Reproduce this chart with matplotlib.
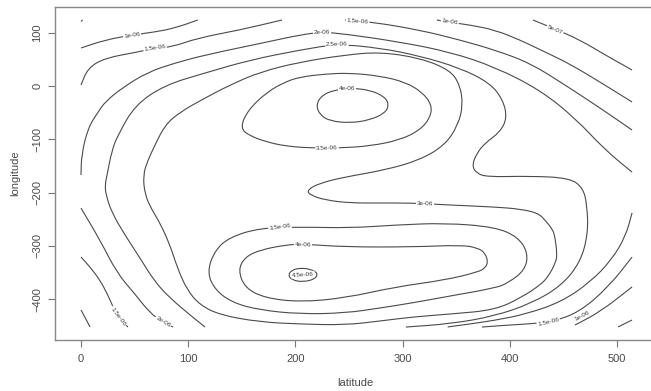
import numpy as np
import matplotlib.pyplot as plt
from matplotlib.path import Path
from matplotlib.patches import PathPatch

# contour paths, (latitude, longitude) pairs
c05_a = [(0, 121), (1.5, 124)]
c05_b = [(421.6, 123.8), (442, 107), (465.5, 86.3), (489, 58.2), (514, 30)]
c05_c = [(501, -452), (514, -439)]

c10_a = [(0, 71.3), (22.4, 86.3), (47.6, 95.7), (69, 101.3), (87.7, 108.8), (109, 123.8)]
c10_b = [(332, 123.8), (342.4, 120), (363, 114.4), (386.2, 105), (409.5, 86.3), (432.8, 63.8),
         (456, 41.3), (484, 7.5), (514, -30)]
c10_c = [(0, -420), (8.4, -452)]
c10_d = [(460.8, -448.4), (484, -424), (514, -377)]

c15_a = [(0, 1.9), (6.5, 33.8), (22.4, 52.5), (53.2, 63.8), (69, 71.3), (84.9, 73.2),
         (109, 90), (148, 105), (187.5, 123.8)]
c15_b = [(246.3, 123.8), (271.5, 120), (316, 105), (353.5, 86.3), (386, 67.5), (419, 43),
         (451.5, 1.9), (484, -41), (514, -82.6)]
c15_c = [(0, -320.8), (8.4, -339.6), (17.7, -364), (25, -392), (29.9, -414.6),
         (34.5, -433.4), (43.8, -452.2)]
c15_d = [(374, -452.2), (395, -449), (420, -446), (440, -442), (465, -424), (492, -377),
         (514, -321)]

c20_a = [(0, -167), (0.5, -129), (6.5, -78.8), (15.9, -48.8), (22.4, -30), (38.2, -3.8),
         (62.5, 26.3), (87.7, 43.1), (115.7, 58.2), (173.5, 82.5), (204, 95.7), (224.8, 101.3),
         (246.3, 97.6), (297.6, 82.5), (344.2, 63.8), (386.2, 35.6), (428.2, -7.5),
         (460.8, -60), (488.8, -120), (514, -161.4)]
c20_b = [(514, -238), (508, -282), (495, -326), (475, -368), (448, -405), (415, -428),
         (385, -440), (357, -448), (342, -452)]
c20_c = [(0, -229), (17.7, -289), (33.6, -351), (49.4, -388), (64.4, -426), (76.5, -443),
         (85.8, -452)]

c25 = [(115.7, -452.2), (101.7, -429.6), (83, -397.7), (69, -367.7), (55, -322.7),
       (41, -279.5), (28.9, -238.3), (23.3, -204.5), (22.4, -185.7), (24.3, -167),
       (28.9, -120), (34.5, -92), (50.4, -35.6), (78.4, 1.9), (115.7, 24.4), (157.6, 48.8),
       (204.3, 67.5), (238.8, 78.8), (278.9, 71.3), (316.2, 56.3), (353.5, 33.8),
       (381.5, 5.6), (393.7, -26.3), (397.4, -60), (390.9, -86.3), (376.9, -107),
       (369.4, -125.7), (364.7, -148.2), (368.5, -163.2), (378.7, -170.7), (418.8, -168.9),
       (456, -172.6), (468.3, -191.4), (472, -223.3), (473, -275.8), (466, -330),
       (448, -375), (420, -408), (385, -432), (345, -446), (303, -452.2)]

c30 = [(210.8, -195), (223, -182), (246.3, -170.7), (283.6, -157.6), (316.2, -138.8),
       (339.6, -110.7), (351.7, -73.2), (356.3, -35.6), (353.5, 1.9), (344.2, 30),
       (316.2, 52.5), (278.9, 63.8), (246.3, 58.2), (204.3, 45), (167, 26.3), (139, 1.9),
       (115.7, -22.5), (92.4, -48.8), (78.4, -73.2), (69, -110.7), (62.5, -138.8),
       (57.8, -167), (59.7, -204.5), (66.2, -232.6), (73.7, -257), (83, -298.3),
       (89.6, -339.6), (98.9, -382.7), (111, -411), (129.7, -429.6), (167, -442.8),
       (204.3, -446.6), (246.3, -448.4), (278.9, -440.9), (308.8, -433.4), (344.2, -427.8),
       (386.2, -420.3), (411.4, -396), (428.2, -373.4), (435.6, -358.3), (443.1, -330.2),
       (444, -313.3), (442.2, -285.2), (440.3, -270), (432.8, -251.4), (426.3, -238.3),
       (409.5, -230.8), (386.2, -227), (344.2, -223.3), (308.8, -219.5), (278.9, -219.5),
       (250.9, -219.5), (227.6, -213.9), (213.6, -204.5), (210.8, -195)]

c35_top = [(148.3, -78.8), (155.8, -45), (173.5, -11.3), (190.3, 7.5), (204.3, 16.9),
           (227.6, 22.5), (250.9, 24.4), (278.9, 18.8), (302.2, 7.5), (318.1, -11.3),
           (327.4, -35.6), (325.6, -60), (316.2, -82.6), (297.6, -101.3), (269.6, -112.6),
           (241.6, -116.3), (213.6, -116.3), (190.3, -112.6), (173.5, -105), (157.6, -93.8),
           (148.3, -78.8)]
c35_bot = [(117.5, -349), (125, -307.7), (139, -283.3), (167, -266.4), (204.3, -264.5),
           (250.9, -266.4), (293, -260.8), (339.6, -257), (386.2, -264.5), (407.6, -283.3),
           (417, -313.3), (414.2, -345.2), (398.3, -369.6), (386.2, -379), (344.2, -394),
           (308.8, -407), (278.9, -416.5), (246.3, -426), (204.3, -427.8), (167, -420.3),
           (141.8, -407), (125, -382.7), (117.5, -349)]

c40_top = [(219.2, -35.6), (224.8, -16.9), (236.9, -7.5), (250.9, -3.8), (269.6, -7.5),
           (283.6, -20.6), (287.3, -35.6), (283.6, -50.7), (269.6, -63.8), (250.9, -69.4),
           (232.3, -65.7), (222.9, -54.4), (219.2, -35.6)]
c40_bot = [(146.5, -345.2), (153, -320.8), (167, -307.7), (190.3, -298.3), (207, -296.4),
           (246.3, -302), (308.8, -302), (355.4, -298.3), (370.3, -304), (376.9, -313.3),
           (379.7, -330.2), (376.9, -341.5), (370.3, -349), (339.6, -364), (293, -377),
           (246.3, -397.7), (204.3, -405.3), (171.6, -397.7), (153, -379), (146.5, -345.2)]

c45 = [(193.1, -354.6), (196.8, -345.2), (204.3, -341.5), (213.6, -343.3), (221.1, -351),
       (218.3, -362.3), (207, -367.7), (196.8, -364), (193.1, -354.6)]

contours = [c05_a, c05_b, c05_c, c10_a, c10_b, c10_c, c10_d, c15_a, c15_b, c15_c, c15_d,
            c20_a, c20_b, c20_c, c25, c30, c35_top, c35_bot, c40_top, c40_bot, c45]

# contour labels: text, position, path it sits on
labels = [
    ('5e-07', (442, 105), c05_b),
    ('1e-06', (47.6, 95.7), c10_a),
    ('1e-06', (344, 120), c10_b),
    ('1e-06', (467, -432), c10_d),
    ('1.5e-06', (69, 71.3), c15_a),
    ('1.5e-06', (258, 121), c15_b),
    ('1.5e-06', (34.5, -433), c15_c),
    ('1.5e-06', (436, -443), c15_d),
    ('2e-06', (224.8, 100), c20_a),
    ('2e-06', (76.5, -443), c20_c),
    ('2.5e-06', (238.8, 77.5), c25),
    ('3e-06', (321, -221), c30),
    ('3.5e-06', (229.5, -116.3), c35_top),
    ('3.5e-06', (185.6, -265), c35_bot),
    ('4e-06', (248, -4.5), c40_top),
    ('4e-06', (207, -297), c40_bot),
    ('4.5e-06', (207, -354), c45),
]


def smooth(pts):
    # quadratic bezier through segment midpoints, points act as control points
    p = np.asarray(pts, float)
    if len(p) < 3:
        return Path(p)
    if np.allclose(p[0], p[-1]):
        p = p[:-1]
        mids = (p + np.roll(p, -1, axis=0)) / 2
        verts = [mids[-1]]
        codes = [Path.MOVETO]
        for i in range(len(p)):
            verts += [p[i], mids[i]]
            codes += [Path.CURVE3, Path.CURVE3]
    else:
        mids = (p[:-1] + p[1:]) / 2
        verts = [p[0], mids[0]]
        codes = [Path.MOVETO, Path.LINETO]
        for i in range(1, len(p) - 1):
            verts += [p[i], mids[i]]
            codes += [Path.CURVE3, Path.CURVE3]
        verts.append(p[-1])
        codes.append(Path.LINETO)
    return Path(verts, codes)


fig = plt.figure(figsize=(6.51, 3.91), dpi=100)
ax = fig.add_axes([55 / 651, 51 / 391, 600 / 651, 333 / 391])
ax.set_xlim(-24.25, 535.4)
ax.set_ylim(-476.5, 148.2)

line_col = '#4a4a4a'
for path in contours:
    ax.add_patch(PathPatch(smooth(path), fill=False, ec=line_col, lw=0.8))

# put the labels along the lines, leaving a small gap like R does
fig.canvas.draw()
for text, (lx, ly), path in labels:
    d = ax.transData.transform(np.array(path))
    c = ax.transData.transform((lx, ly))
    i = np.argmin(np.hypot(d[:, 0] - c[0], d[:, 1] - c[1]))
    j = min(i + 1, len(d) - 1)
    k = max(i - 1, 0)
    ang = np.degrees(np.arctan2(d[j, 1] - d[k, 1], d[j, 0] - d[k, 0]))
    if ang > 90:
        ang -= 180
    if ang < -90:
        ang += 180
    ax.text(lx, ly, text, fontsize=4.6, color='#3a3a3a', rotation=ang,
            rotation_mode='anchor', ha='center', va='center', family='Liberation Sans',
            bbox=dict(fc='white', ec='none', pad=0.6))

ax.set_xticks([0, 100, 200, 300, 400, 500])
ax.set_yticks([-400, -300, -200, -100, 0, 100])
for lab in ax.get_yticklabels():
    lab.set_rotation(90)
    lab.set_va('center')
ax.tick_params(length=5, width=0.8, color='#777777', labelcolor='#4a4a4a', labelsize=8,
               direction='out')
ax.tick_params(axis='x', pad=5)
ax.tick_params(axis='y', pad=4)
for lab in ax.get_xticklabels() + ax.get_yticklabels():
    lab.set_family('Liberation Sans')

for s in ax.spines.values():
    s.set_color('#888888')
    s.set_linewidth(1.0)

ax.set_xlabel('latitude', fontsize=8, color='#4a4a4a', family='Liberation Sans', labelpad=10)
ax.set_ylabel('longitude', fontsize=8, color='#4a4a4a', family='Liberation Sans', labelpad=9)

fig.savefig('out.png', dpi=100)
